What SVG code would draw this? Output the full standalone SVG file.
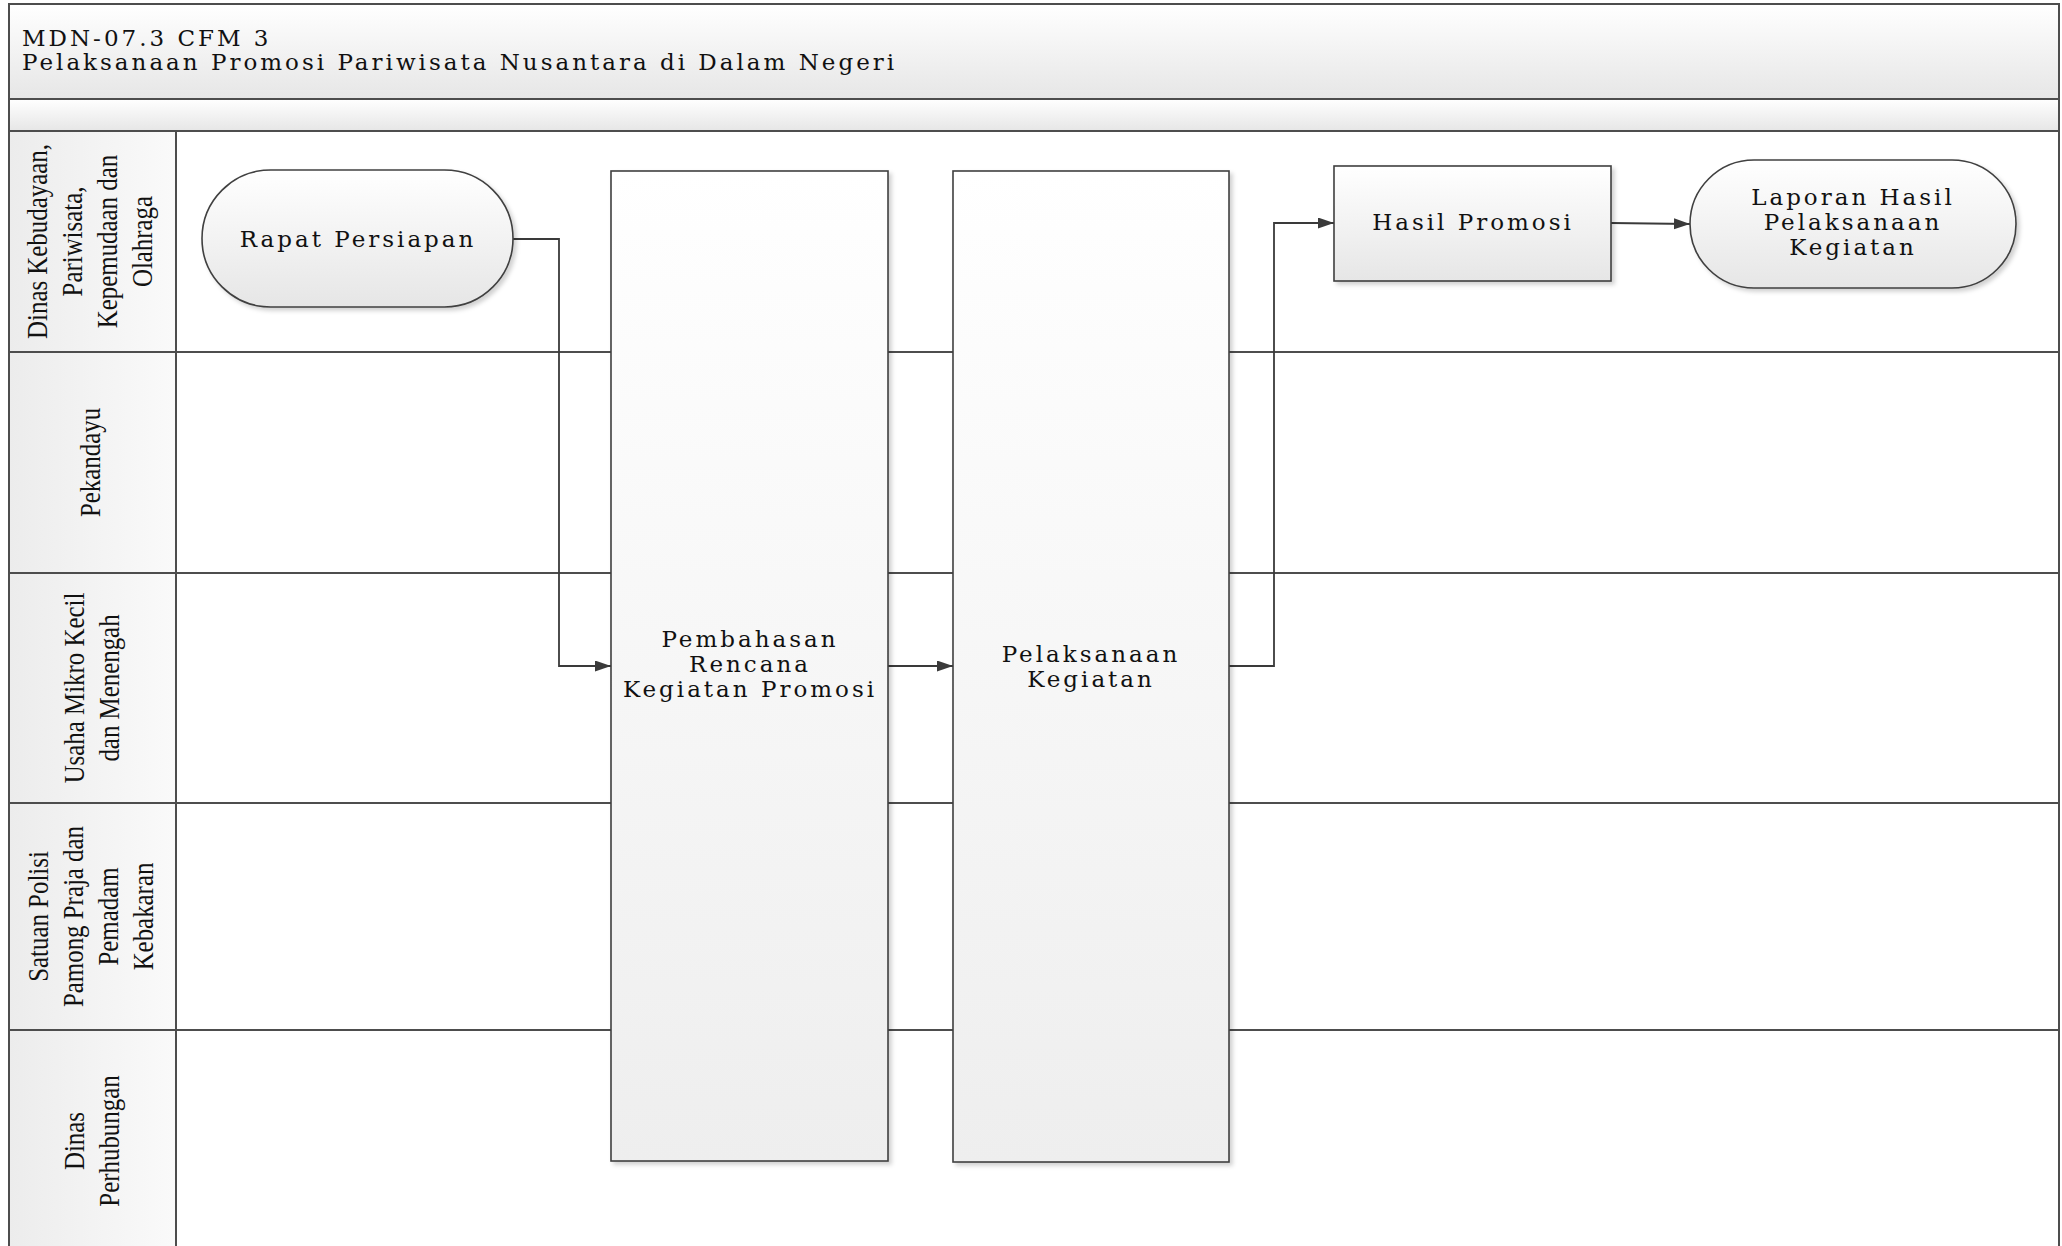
<svg xmlns="http://www.w3.org/2000/svg" width="2062" height="1246" viewBox="0 0 2062 1246">
<style>
.t{font-family:"DejaVu Serif","Liberation Serif",serif;font-size:23px;letter-spacing:3px;fill:#111}
.tc{text-anchor:middle}
.lane{font-family:"Liberation Serif",serif;font-size:30px;fill:#111;text-anchor:middle}
.frame{fill:none;stroke:#4d4d4d;stroke-width:2}
.ln{stroke:#4d4d4d;stroke-width:2;fill:none}
.shape{stroke:#404040;stroke-width:1.6}
.conn{stroke:#3a3a3a;stroke-width:1.8;fill:none}
</style>
<defs>
<linearGradient id="gHead" x1="0" y1="0" x2="0" y2="1"><stop offset="0" stop-color="#ffffff"/><stop offset="1" stop-color="#e6e6e6"/></linearGradient>
<linearGradient id="gLane" x1="0" y1="0" x2="1" y2="0"><stop offset="0" stop-color="#ececec"/><stop offset="1" stop-color="#fafafa"/></linearGradient>
<linearGradient id="gNode" x1="0" y1="0" x2="0" y2="1"><stop offset="0" stop-color="#ffffff"/><stop offset="1" stop-color="#e6e6e6"/></linearGradient>
<linearGradient id="gBox" x1="0" y1="0" x2="0" y2="1"><stop offset="0" stop-color="#ffffff"/><stop offset="1" stop-color="#eeeeee"/></linearGradient>
<filter id="sh" x="-5%" y="-5%" width="115%" height="115%"><feDropShadow dx="3" dy="3" stdDeviation="2" flood-color="#000" flood-opacity="0.18"/></filter>
<marker id="arr" markerUnits="userSpaceOnUse" markerWidth="17" markerHeight="12" refX="16" refY="5.5" orient="auto"><path d="M0,0 L16,5.5 L0,11 z" fill="#3a3a3a"/></marker>
</defs>
<rect x="0" y="0" width="2062" height="1246" fill="#ffffff"/>
<g id="pool">
<rect x="9" y="4" width="2050" height="95" fill="url(#gHead)"/>
<rect x="9" y="99" width="2050" height="32" fill="url(#gHead)"/>
<rect x="9" y="131" width="167" height="1120" fill="url(#gLane)"/>
<rect class="frame" x="9" y="4" width="2050" height="1260"/>
<line class="ln" x1="9" y1="99" x2="2059" y2="99"/>
<line class="ln" x1="9" y1="131" x2="2059" y2="131"/>
<line class="ln" x1="176" y1="131" x2="176" y2="1250"/>
<line class="ln" x1="9" y1="352" x2="2059" y2="352"/>
<line class="ln" x1="9" y1="573" x2="2059" y2="573"/>
<line class="ln" x1="9" y1="803" x2="2059" y2="803"/>
<line class="ln" x1="9" y1="1030" x2="2059" y2="1030"/>
<text class="t" x="22" y="46">MDN-07.3 CFM 3</text>
<text class="t" x="22" y="70">Pelaksanaan Promosi Pariwisata Nusantara di Dalam Negeri</text>
</g>
<g id="lane1">
<g transform="translate(0,241.5) rotate(-90) scale(0.83,1)">
<text class="lane" x="0" y="47">Dinas Kebudayaan,</text>
<text class="lane" x="0" y="82">Pariwisata,</text>
<text class="lane" x="0" y="117">Kepemudaan dan</text>
<text class="lane" x="0" y="152">Olahraga</text>
</g>
</g>
<g id="lane2">
<g transform="translate(0,462.5) rotate(-90) scale(0.83,1)">
<text class="lane" x="0" y="100">Pekandayu</text>
</g>
</g>
<g id="lane3">
<g transform="translate(0,688) rotate(-90) scale(0.83,1)">
<text class="lane" x="0" y="84">Usaha Mikro Kecil</text>
<text class="lane" x="0" y="119">dan Menengah</text>
</g>
</g>
<g id="lane4">
<g transform="translate(0,916.5) rotate(-90) scale(0.83,1)">
<text class="lane" x="0" y="48.5">Satuan Polisi</text>
<text class="lane" x="0" y="83.5">Pamong Praja dan</text>
<text class="lane" x="0" y="118.5">Pemadam</text>
<text class="lane" x="0" y="153.5">Kebakaran</text>
</g>
</g>
<g id="lane5">
<g transform="translate(0,1141) rotate(-90) scale(0.83,1)">
<text class="lane" x="0" y="84">Dinas</text>
<text class="lane" x="0" y="119">Perhubungan</text>
</g>
</g>
<g id="connectors">
<path class="conn" d="M513,239 H559 V666 H611" marker-end="url(#arr)"/>
<path class="conn" d="M888,666 H953" marker-end="url(#arr)"/>
<path class="conn" d="M1229,666 H1274 V223 H1334" marker-end="url(#arr)"/>
<path class="conn" d="M1611,223 L1690,224" marker-end="url(#arr)"/>
</g>
<g id="n-rapat">
<rect class="shape" x="202" y="170" width="311" height="137" rx="68.5" ry="68.5" fill="url(#gNode)" filter="url(#sh)"/>
<text class="t tc" x="358" y="247">Rapat Persiapan</text>
</g>
<g id="n-pembahasan">
<rect class="shape" x="611" y="171" width="277" height="990" fill="url(#gBox)" filter="url(#sh)"/>
<text class="t tc" x="750" y="647">Pembahasan</text>
<text class="t tc" x="750" y="672">Rencana</text>
<text class="t tc" x="750" y="697">Kegiatan Promosi</text>
</g>
<g id="n-pelaksanaan">
<rect class="shape" x="953" y="171" width="276" height="991" fill="url(#gBox)" filter="url(#sh)"/>
<text class="t tc" x="1091" y="662">Pelaksanaan</text>
<text class="t tc" x="1091" y="687">Kegiatan</text>
</g>
<g id="n-hasil">
<rect class="shape" x="1334" y="166" width="277" height="115" fill="url(#gNode)" filter="url(#sh)"/>
<text class="t tc" x="1473" y="230">Hasil Promosi</text>
</g>
<g id="n-laporan">
<rect class="shape" x="1690" y="160" width="326" height="128" rx="64" ry="64" fill="url(#gNode)" filter="url(#sh)"/>
<text class="t tc" x="1853" y="205">Laporan Hasil</text>
<text class="t tc" x="1853" y="230">Pelaksanaan</text>
<text class="t tc" x="1853" y="255">Kegiatan</text>
</g>
</svg>
